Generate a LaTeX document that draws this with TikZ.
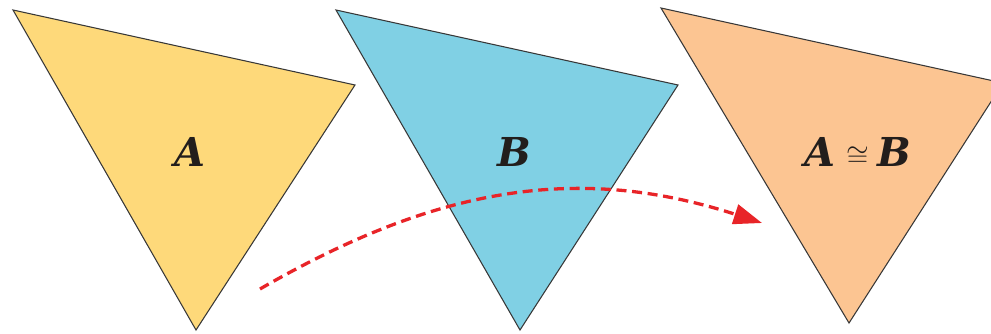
\documentclass[tikz,border=0pt]{standalone}
\usepackage{fontspec}
\usepackage{xcolor}
\usepackage{tikz}
\usetikzlibrary{arrows.meta}
\newfontfamily\trilabelfont{DejaVu Serif}
\definecolor{TriYellow}{RGB}{254, 217, 122}
\definecolor{TriCyan}{RGB}{128, 208, 228}
\definecolor{TriOrange}{RGB}{252, 197, 146}
\definecolor{TriEdge}{RGB}{55, 55, 55}
\definecolor{TriText}{RGB}{34, 30, 28}
\definecolor{MoveRed}{RGB}{232, 36, 40}

\begin{document}
\begin{tikzpicture}[x=0.3mm,y=0.3mm,
    tri/.style={draw=TriEdge, line width=0.9pt, line join=miter},
    trilabel/.style={text=TriText, font=\fontsize{34}{40}\selectfont\trilabelfont\bfseries\itshape},
    movearrow/.style={MoveRed, line width=2.8pt, dash pattern=on 0.3cm off 0.17cm,
      -{Triangle[length=0.85cm,width=0.6cm]}}]
  \clip (0,0) rectangle (991,333);
  \fill[white] (0,0) rectangle (991,333);
  % the three triangles
  \filldraw[tri, fill=TriYellow] (13,323) -- (355,248) -- (196,3) -- cycle;
  \filldraw[tri, fill=TriCyan] (336,323) -- (678,248) -- (520,3) -- cycle;
  \filldraw[tri, fill=TriOrange] (661,325) -- (1003,250) -- (849,10) -- cycle;
  \node[trilabel] (labA) at (190,181) {A};
  \node[trilabel] (labB) at (514,181) {B};
  \node[trilabel] (labAB) at (858,181) {A\hspace{0.27em}{\normalfont\mdseries\upshape$\cong$}\hspace{0.22em}B};
  % moving A onto B
  \coordinate (movestart) at (260,44);
  \coordinate (moveend) at (762,110);
  \draw[movearrow] (movestart) to[out=30, in=162] (moveend);
\end{tikzpicture}
\end{document}
